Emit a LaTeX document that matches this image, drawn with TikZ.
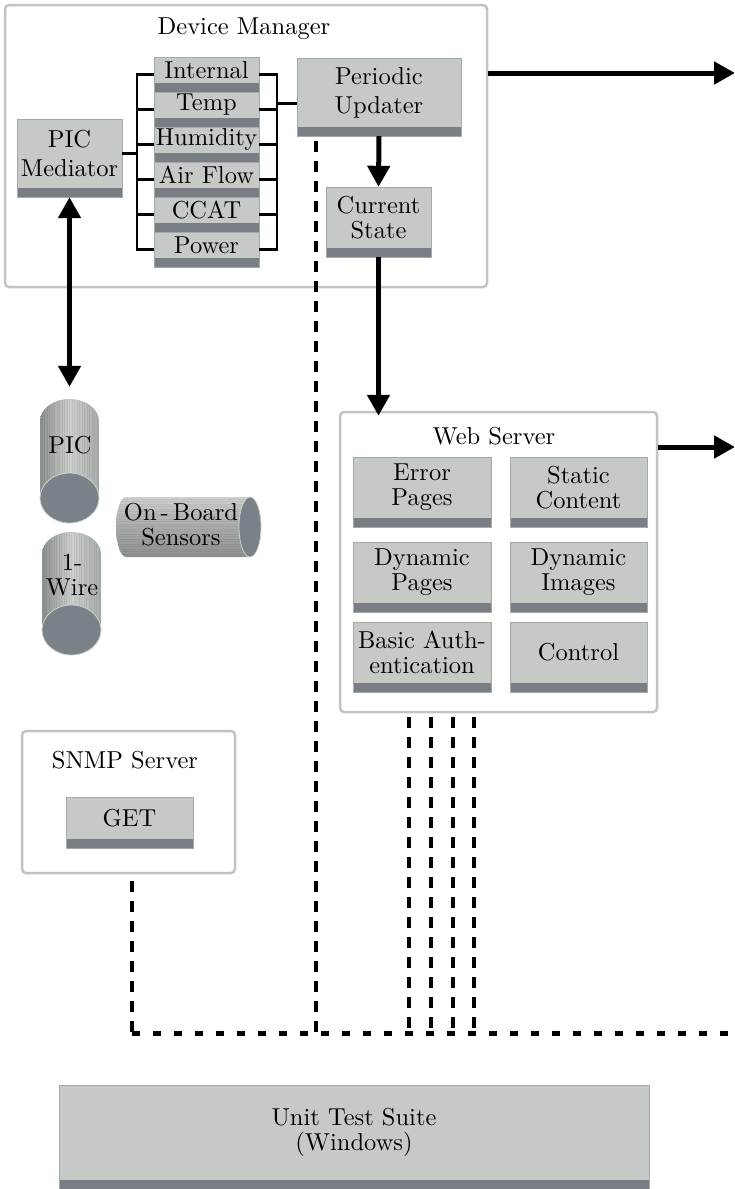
\documentclass[tikz,border=0pt]{standalone}
\usetikzlibrary{arrows.meta,fit,calc}

\font\lblfont="[lmroman10-regular]" at 24.5pt

\definecolor{boxfill}{RGB}{198,202,198}
\definecolor{stripe}{RGB}{120,126,132}
\definecolor{frame}{RGB}{195,195,195}
\definecolor{boxedge}{RGB}{165,170,166}
\definecolor{cylface}{RGB}{122,130,137}
\definecolor{cylrim}{RGB}{205,210,205}
\definecolor{cyldark}{RGB}{140,145,143}
\definecolor{cyllight}{RGB}{205,209,204}
\definecolor{cylmid}{RGB}{168,173,170}

\tikzset{
  lbl/.style={font=\fontsize{24.5}{25}\selectfont\lblfont, align=center, inner sep=0pt},
  wide/.style={font=\fontsize{24.5}{29}\selectfont\lblfont},
  container/.style={draw=frame, line width=2.5pt, fill=white, rounded corners=4pt, inner sep=0pt},
  bus/.style={line width=2.5pt, draw=black},
  arr/.style={line width=5pt, -{Triangle[length=21pt, width=22pt]}},
  arrboth/.style={line width=5pt, {Triangle[length=21pt, width=22pt]}-{Triangle[length=21pt, width=22pt]}},
  vdash/.style={line width=4.5pt, dash pattern=on 11pt off 9pt},
  hdash/.style={line width=5pt, dash pattern=on 8pt off 13pt},
  cylbody/.style={left color=cyldark, right color=cylmid, middle color=cyllight},
  cylend/.style={fill=cylface, draw=cylrim, line width=0.8pt},
  grain/.style={line width=0.4pt, draw=black, opacity=0.06},
}

% grey block with a dark strip along its bottom edge
\newcommand\gbox[5][]{%
  \node[fit={#3 #4}, inner sep=0pt, fill=boxfill] (#2) {};
  \fill[stripe] (#2.south west) rectangle ([yshift=9pt]#2.south east);
  \draw[boxedge, line width=0.6pt] (#2.north west) rectangle (#2.south east);
  \node[lbl,#1] (#2-t) at ([yshift=4.5pt]#2.center) {#5};
}

\begin{document}
\begin{tikzpicture}[x=1pt,y=-1pt]
\useasboundingbox (0,0) rectangle (735,1189);

% ---------- containers ----------
\node[container, fit={(5,5) (487,287)}] (dm) {};
\node[lbl] (dm-t) at (244,29) {Device Manager};

\node[container, fit={(340,412) (657,712)}] (ws) {};
\node[lbl] (ws-t) at (494,436) {Web Server};

\node[container, fit={(22,731) (235,873)}] (snmp) {};
\node[lbl] (snmp-t) at (125,760) {SNMP Server};

% ---------- device manager ----------
\gbox[wide]{pic}{(17,119)}{(122,197)}{PIC\\Mediator}
\gbox{int}{(154,57)}{(259,92)}{Internal}
\gbox{tmp}{(154,92)}{(259,127)}{Temp}
\gbox{hum}{(154,127)}{(259,162)}{Humidity}
\gbox{air}{(154,162)}{(259,197)}{Air Flow}
\gbox{cca}{(154,197)}{(259,232)}{CCAT}
\gbox{pow}{(154,232)}{(259,267)}{Power}
\gbox[wide]{pu}{(297,58)}{(461,136)}{Periodic\\Updater}
\gbox{cs}{(326,187)}{(431,257)}{Current\\State}

% sensor buses
\draw[bus] (int.west) -- ++(-17,0) |- (pow.west);
\foreach \s in {tmp,hum,air,cca} \draw[bus] (\s.west) -- ++(-17,0);
\draw[bus] (int.east) -- ++(18,0) |- (pow.east);
\foreach \s in {tmp,hum,air,cca} \draw[bus] (\s.east) -- ++(18,0);
\draw[bus, line width=3.5pt] (pic.east |- pic-t) -- ++(15,0);
\coordinate (rb) at (277,103);
\draw[bus, line width=3pt] (rb) -- (pu.west |- rb);

% ---------- web server ----------
\gbox{err}{(353,457)}{(491,527)}{Error\\Pages}
\gbox{sta}{(510,457)}{(647,527)}{Static\\Content}
\gbox{dpg}{(353,542)}{(491,612)}{Dynamic\\Pages}
\gbox{dim}{(510,542)}{(647,612)}{Dynamic\\Images}
\gbox{auth}{(353,622)}{(491,692)}{Basic Auth-\\entication}
\gbox{ctl}{(510,622)}{(647,692)}{Control}

% ---------- SNMP ----------
\gbox{get}{(66,797)}{(193,848)}{GET}

% ---------- unit tests ----------
\gbox{uts}{(59,1085)}{(649,1189)}{Unit Test Suite\\(Windows)}

% ---------- cylinders ----------
% PIC
\node[fit={(40,399) (99,523)}, inner sep=0pt] (cpic) {};
\begin{scope}
\path[clip] (40,498) -- (40,421) arc[start angle=180, end angle=0, x radius=29.5pt, y radius=22pt]
  -- (99,498) arc[start angle=0, end angle=-180, x radius=29.5pt, y radius=25pt] -- cycle;
\shade[cylbody] (40,399) rectangle (99,523);
\foreach \x in {42,44.5,...,98} \draw[grain] (\x,399) -- (\x,523);
\end{scope}
\filldraw[cylend] (69.5,498) ellipse[x radius=29.5pt, y radius=25pt];
\node[lbl] (cpic-t) at (70,445) {PIC};

% 1-Wire
\node[fit={(42,532) (101,655)}, inner sep=0pt] (cwire) {};
\begin{scope}
\path[clip] (42,630) -- (42,554) arc[start angle=180, end angle=0, x radius=29.5pt, y radius=22pt]
  -- (101,630) arc[start angle=0, end angle=-180, x radius=29.5pt, y radius=25pt] -- cycle;
\shade[cylbody] (42,532) rectangle (101,655);
\foreach \x in {44,46.5,...,100} \draw[grain] (\x,532) -- (\x,655);
\end{scope}
\filldraw[cylend] (71.5,630) ellipse[x radius=29.5pt, y radius=25pt];
\node[lbl] (cwire-t) at (72,575) {1-\\Wire};

% On-board sensors
\node[fit={(116,497) (261,557)}, inner sep=0pt] (cobs) {};
\begin{scope}
\path[clip] (250,497) -- (126,497)
  arc[start angle=90, end angle=270, x radius=10pt, y radius=30pt]
  -- (250,557) arc[start angle=-90, end angle=90, x radius=11pt, y radius=30pt] -- cycle;
\shade[top color=cyllight, bottom color=cyldark, middle color=cylmid] (116,497) rectangle (261,557);
\foreach \y in {499,501.5,...,556} \draw[grain] (116,\y) -- (261,\y);
\end{scope}
\filldraw[cylend] (250,527) ellipse[x radius=11pt, y radius=30pt];
\node[lbl] (cobs-t) at (181,525) {On\,-\,Board\\Sensors};

% ---------- solid arrows ----------
\coordinate (out1) at (735,73);
\coordinate (out2) at (735,447);
\draw[arr] (dm.east |- out1) -- (out1);
\draw[arr] (ws.east |- out2) -- (out2);
\draw[arr] (pu.south) -- (cs.north);
\draw[arr] (cs.south) -- ([yshift=-5pt]cs.south |- ws.north);
\draw[arrboth] (pic.south) -- ([yshift=12pt]cpic.north);

% ---------- dashed test links ----------
\coordinate (d0) at (316,1033);
\coordinate (d1) at (409,1033);
\coordinate (d2) at (431,1033);
\coordinate (d3) at (453,1033);
\coordinate (d4) at (474,1033);
\coordinate (d5) at (132,1033);
\coordinate (dend) at (735,1033);
\draw[vdash] ([yshift=-5pt]pu.south -| d0) -- (d0);
\foreach \d in {d1,d2,d3,d4} \draw[vdash] ([yshift=-4pt]ws.south -| \d) -- (\d);
\draw[vdash] ([yshift=-7pt]snmp.south -| d5) -- (d5);
\draw[hdash] (d5) -- (dend);
\end{tikzpicture}
\end{document}
